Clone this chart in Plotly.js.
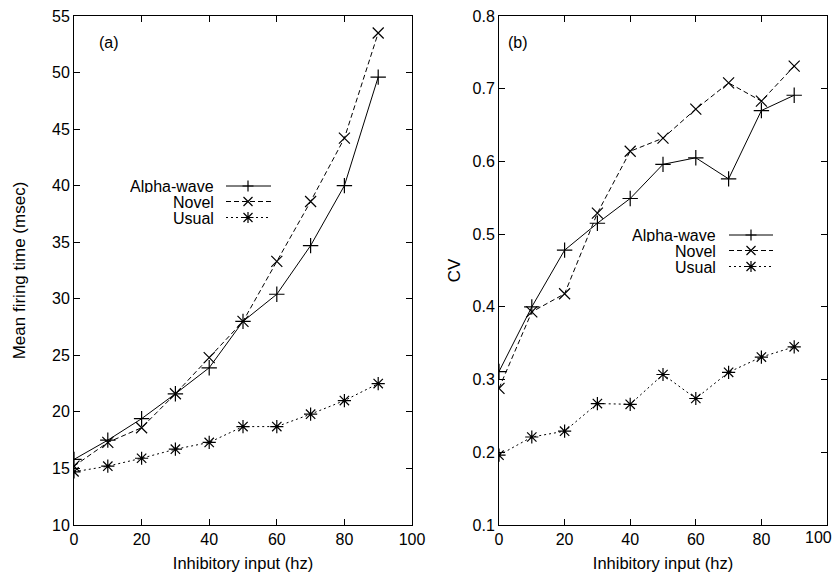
<!DOCTYPE html>
<html><head><meta charset="utf-8">
<script src="https://cdn.plot.ly/plotly-3.0.1.min.js"></script>
<style>html,body{margin:0;padding:0;background:#fff}</style>
</head><body><div id="chart" style="width:836px;height:573px"></div>
<script>
const inhibitory = [0, 10, 20, 30, 40, 50, 60, 70, 80, 90];
const seriesNames = ["Alpha-wave", "Novel", "Usual"];
// Panel (a): mean firing time (msec)
const meanAlpha = [15.8, 17.5, 19.4, 21.6, 23.9, 28.0, 30.4, 34.7, 40.0, 49.6];
const meanNovel = [15.2, 17.3, 18.6, 21.6, 24.8, 28.0, 33.3, 38.6, 44.2, 53.5];
const meanUsual = [14.7, 15.2, 15.9, 16.7, 17.3, 18.7, 18.7, 19.8, 21.0, 22.5];
// Panel (b): CV
const cvAlpha = [0.311, 0.400, 0.478, 0.515, 0.549, 0.596, 0.605, 0.576, 0.670, 0.691];
const cvNovel = [0.288, 0.393, 0.418, 0.529, 0.614, 0.632, 0.672, 0.708, 0.683, 0.731];
const cvUsual = [0.196, 0.221, 0.229, 0.267, 0.266, 0.307, 0.274, 0.310, 0.331, 0.345];
const xTicks = [0, 20, 40, 60, 80, 100];
const xTickText = ["0", "20", "40", "60", "80", "100"];
const yTicksA = [10, 15, 20, 25, 30, 35, 40, 45, 50, 55];
const yTicksB = [0.1, 0.2, 0.3, 0.4, 0.5, 0.6, 0.7, 0.8];

const FONT = "Liberation Sans, Arial, Helvetica, sans-serif";
const FS = 16;
const W = 836, PT = 16, PB = 525;
const styles = [
  {dash: "solid", symbol: "cross-thin-open"},
  {dash: "5px,3px", symbol: "x-thin-open"},
  {dash: "2px,3px", symbol: "asterisk-open"}
];
function tr(x, y, i, xa, ya) {
  return {x: x, y: y, xaxis: xa, yaxis: ya, type: "scatter", mode: "lines+markers",
    name: seriesNames[i], showlegend: false,
    line: {color: "#000", width: 1, dash: styles[i].dash},
    marker: {symbol: styles[i].symbol, size: 11, color: "#000", line: {color: "#000", width: 1.2}}};
}
const data = [
  tr(inhibitory, meanAlpha, 0, "x", "y"),
  tr(inhibitory, meanNovel, 1, "x", "y"),
  tr(inhibitory, meanUsual, 2, "x", "y"),
  tr(inhibitory, cvAlpha, 0, "x2", "y2"),
  tr(inhibitory, cvNovel, 1, "x2", "y2"),
  tr(inhibitory, cvUsual, 2, "x2", "y2")
];
const px = p => p / W;
const py = p => (PB - p) / (PB - PT);
const shapes = [], annotations = [];
function legend(textRight, lineL, lineR, mark, rows) {
  rows.forEach((ry, i) => {
    annotations.push({xref: "paper", yref: "paper", x: px(textRight), y: py(ry), xanchor: "right", yanchor: "middle",
      height: 14, borderpad: 0,
      text: seriesNames[i], showarrow: false, font: {family: FONT, size: FS, color: "#000"}});
    shapes.push({type: "line", xref: "paper", yref: "paper", x0: px(lineL), x1: px(lineR), y0: py(ry), y1: py(ry),
      line: {color: "#000", width: 1, dash: styles[i].dash}});
    const s = 5.5, d = 4.5;
    let path = "";
    if (i === 0 || i === 2) path += `M${-s},0 L${s},0 M0,${-s} L0,${s} `;
    if (i === 1 || i === 2) path += `M${-d},${-d} L${d},${d} M${-d},${d} L${d},${-d}`;
    shapes.push({type: "path", xref: "paper", yref: "paper", xsizemode: "pixel", ysizemode: "pixel",
      xanchor: px(mark), yanchor: py(ry), path: path, line: {color: "#000", width: 1.2}});
  });
}
legend(215, 226, 271, 248, [186, 201.5, 217.5]);
legend(717, 729, 773, 751, [235, 250.5, 266.5]);
annotations.push({xref: "paper", yref: "paper", x: px(96.5), y: py(32), text: "(a)", showarrow: false,
  font: {family: FONT, size: FS, color: "#000"}});
annotations.push({xref: "paper", yref: "paper", x: px(518), y: py(32), text: "(b)", showarrow: false,
  font: {family: FONT, size: FS, color: "#000"}});
// last x tick label of panel (b), kept inside the page like the reference
annotations.push({xref: "x2", yref: "paper", x: xTicks[xTicks.length - 1], y: 0, xanchor: "right", yanchor: "top",
  xshift: 7, yshift: -2, text: xTickText[xTickText.length - 1], showarrow: false,
  font: {family: FONT, size: FS, color: "#000"}});

function xax(dom, lastLabel) {
  const tt = xTickText.slice();
  if (!lastLabel) tt[tt.length - 1] = "";
  return {domain: dom, range: [0, 100], tickvals: xTicks, ticktext: tt, ticks: "inside", ticklen: 6, tickcolor: "#000",
    mirror: "allticks", showline: true, linecolor: "#000", linewidth: 1, showgrid: false, zeroline: false,
    ticklabeloverflow: "allow",
    tickfont: {family: FONT, size: FS, color: "#000"},
    title: {text: "Inhibitory input (hz)", font: {family: FONT, size: 16.5, color: "#000"}, standoff: 10}};
}
function yax(range, vals, title, anchor, standoff) {
  return {domain: [0, 1], range: range, tickvals: vals, ticks: "inside", ticklen: 6, tickcolor: "#000",
    mirror: "allticks", showline: true, linecolor: "#000", linewidth: 1, showgrid: false, zeroline: false,
    ticklabeloverflow: "allow",
    anchor: anchor, tickfont: {family: FONT, size: FS, color: "#000"},
    title: {text: title, font: {family: FONT, size: 17, color: "#000"}, standoff: standoff}};
}
const xa2 = xax([px(499), px(827)], false); xa2.anchor = "y2";
const layout = {
  width: 836, height: 573,
  margin: {l: 0, r: 0, t: PT, b: 573 - PB},
  paper_bgcolor: "#fff", plot_bgcolor: "#fff",
  showlegend: false,
  xaxis: Object.assign(xax([px(74), px(412)], true), {anchor: "y"}),
  yaxis: yax([10, 55], yTicksA, "Mean firing time (msec)", "x", 22),
  xaxis2: xa2,
  yaxis2: Object.assign(yax([0.1, 0.8], yTicksB, "CV", "x2", 7), {tickformat: ".1f"}),
  shapes: shapes, annotations: annotations
};
Plotly.newPlot("chart", data, layout, {displayModeBar: false, staticPlot: true});
</script></body></html>
